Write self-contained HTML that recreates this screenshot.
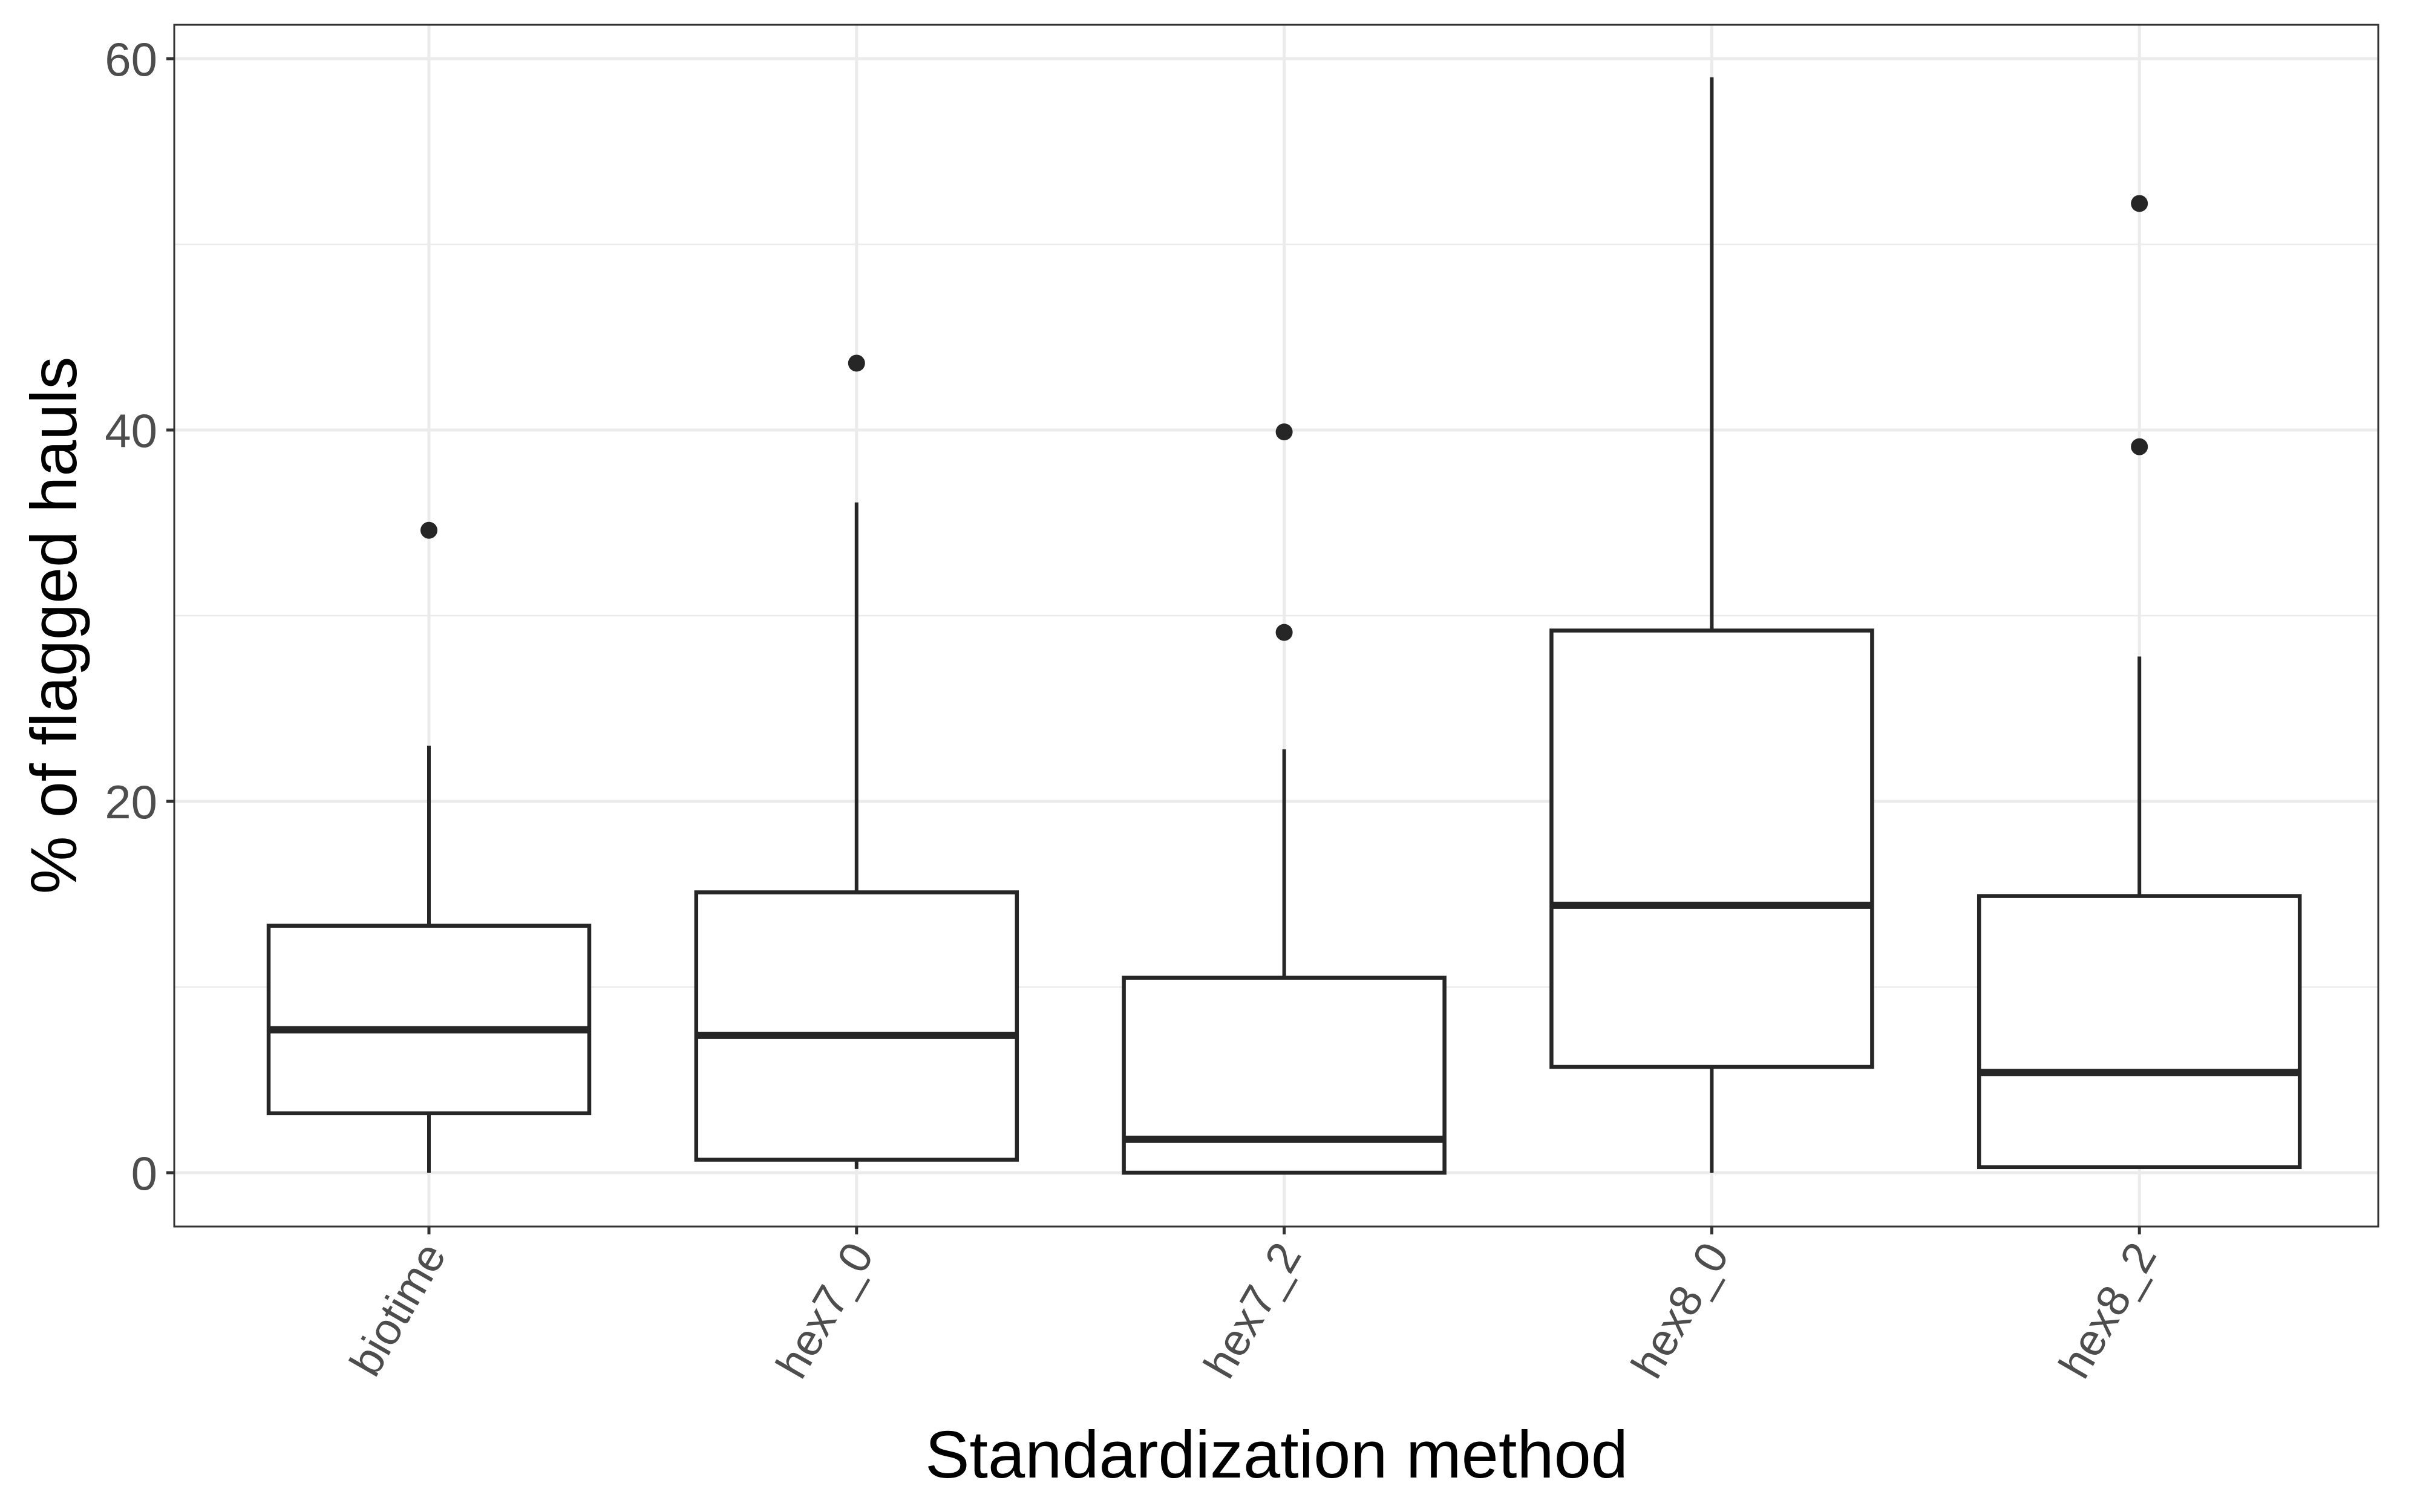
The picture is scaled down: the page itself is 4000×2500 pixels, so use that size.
<!DOCTYPE html>
<html><head><meta charset="utf-8"><style>html,body{margin:0;padding:0;background:#fff}svg{display:block}</style></head>
<body>
<svg id="chart" width="4000" height="2500" xmlns="http://www.w3.org/2000/svg" font-family="Liberation Sans, sans-serif">
<rect width="4000" height="2500" fill="#fff"/>
<g id="grid"></g>
<g id="marks"></g>
<rect x="288" y="41" width="3643" height="1987" fill="none" stroke="#333" stroke-width="3"/>
<g id="axes"></g>
<text x="2110" y="2443" font-size="110" text-anchor="middle" fill="#000">Standardization method</text>
<text transform="translate(126,1034) rotate(-90)" font-size="108" text-anchor="middle" fill="#000">% of flagged hauls</text>
</svg>
<script>
const categories = ["biotime","hex7_0","hex7_2","hex8_0","hex8_2"];
const whiskerLow = [0, 0.2, 0, 0, 0.2];
const q1 = [3.2, 0.7, 0, 5.7, 0.3];
const medians = [7.7, 7.4, 1.8, 14.4, 5.4];
const q3 = [13.3, 15.1, 10.5, 29.2, 14.9];
const whiskerHigh = [23.0, 36.1, 22.8, 59.0, 27.8];
const outliers = [[34.6],[43.6],[29.1,39.9],[],[39.1,52.2]];
const yTicks = [0,20,40,60];
const yMinor = [10,30,50];

const NS="http://www.w3.org/2000/svg";
const L=288,R=3931,T=41,B=2028;
const y = v => 1939 - v*(1939-97)/60;
const x = i => 709 + i*706.8;
const bw = 265;
function mk(tag, attrs, parent){const e=document.createElementNS(NS,tag);for(const k in attrs)e.setAttribute(k,attrs[k]);parent.appendChild(e);return e;}
const grid=document.getElementById('grid'), marks=document.getElementById('marks'), axes=document.getElementById('axes');
yMinor.forEach(v=>{const e=mk('line',{x1:L,x2:R,y1:y(v),y2:y(v),stroke:'#ebebeb','stroke-width':2.5},grid);

});
yTicks.forEach(v=>{const e=mk('line',{x1:L,x2:R,y1:y(v),y2:y(v),stroke:'#ebebeb','stroke-width':5},grid);


const t=mk('line',{x1:L-13,x2:L,y1:y(v),y2:y(v),stroke:'#333','stroke-width':5},axes);


const l=mk('text',{x:L-28,y:y(v)+28,'font-size':78,'text-anchor':'end',fill:'#4d4d4d'},axes);l.textContent=v;

});
categories.forEach((c,i)=>{
const cx=x(i);
const g=mk('line',{x1:cx,x2:cx,y1:T,y2:B,stroke:'#ebebeb','stroke-width':5},grid);


const w1=mk('line',{x1:cx,x2:cx,y1:y(q3[i]),y2:y(whiskerHigh[i]),stroke:'#262626','stroke-width':6},marks);


const w2=mk('line',{x1:cx,x2:cx,y1:y(q1[i]),y2:y(whiskerLow[i]),stroke:'#262626','stroke-width':6},marks);


const bx=mk('rect',{x:cx-bw,y:y(q3[i]),width:2*bw,height:y(q1[i])-y(q3[i]),fill:'#fff',stroke:'#262626','stroke-width':6.5},marks);


const md=mk('line',{x1:cx-bw,x2:cx+bw,y1:y(medians[i]),y2:y(medians[i]),stroke:'#262626','stroke-width':12},marks);


outliers[i].forEach(o=>{const p=mk('circle',{cx:cx,cy:y(o),r:14,fill:'#262626'},marks);

});
const t=mk('line',{x1:cx,x2:cx,y1:B,y2:B+13,stroke:'#333','stroke-width':5},axes);


const l=mk('text',{transform:`translate(${cx+30},${B+46}) rotate(-60)`,'font-size':74,'text-anchor':'end',fill:'#4d4d4d'},axes);
l.textContent=c;


});
</script>
</body></html>
